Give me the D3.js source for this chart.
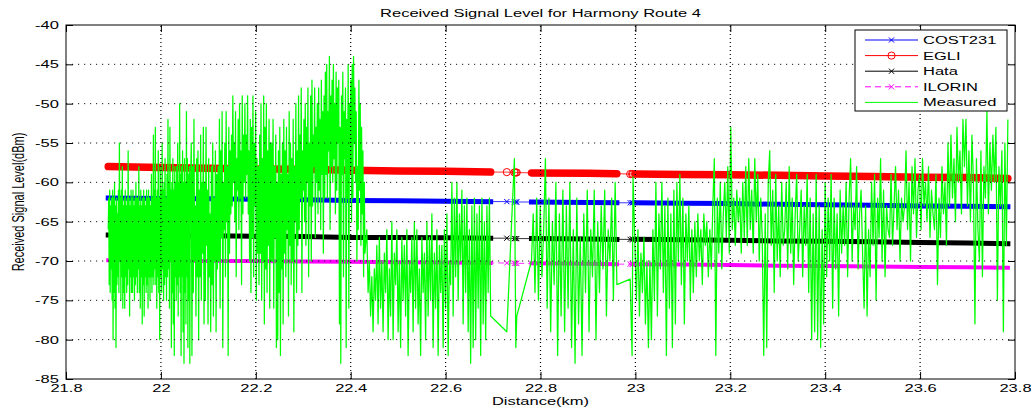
<!DOCTYPE html>
<html>
<head>
<meta charset="utf-8">
<script src="https://cdn.jsdelivr.net/npm/d3@7"></script>
<style>
  body { margin: 0; background: #fff; }
  svg { display: block; font-family: "Liberation Sans", Arial, sans-serif; }
</style>
</head>
<body>
<svg id="chart" width="1031" height="411"></svg>
<script>
// Axis ticks
const xTicks = [21.8, 22.0, 22.2, 22.4, 22.6, 22.8, 23.0, 23.2, 23.4, 23.6, 23.8];
const yTicks = [-85, -80, -75, -70, -65, -60, -55, -50, -45, -40];

// Drive-test recording: runs of evenly spaced readings (dBm) between a start and end distance (km)
const runStartKm = [21.889, 22.064, 22.434, 22.781, 22.999];
const runEndKm   = [22.062, 22.430, 22.695, 22.961, 23.785];

const measuredRun1 = [
  -66,-62,-73,-61,-74,-63,-71,-62,-75,-61, -80,-62,-74,-60,-76,-63,-81,-62,-73,-64,
  -72,-61,-74,-55,-70,-62,-75,-61,-72,-58, -76,-63,-74,-62,-76,-61,-72,-63,-74,-62,
  -73,-56,-71,-62,-77,-63,-72,-61,-74,-62, -74,-61,-72,-63,-75,-62,-73,-60,-72,-62,
  -74,-62,-71,-58,-74,-63,-76,-61,-72,-63, -78,-62,-73,-61,-77,-62,-72,-63,-74,-61,
  -73,-62,-76,-61,-72,-62,-75,-63,-72,-59, -74,-62,-72,-54,-73,-61,-71,-53,-73,-62,
  -76,-61,-72,-56,-74,-62,-80,-58,-72,-61, -74,-55,-71,-61,-75,-60,-73,-57,-72,-62,
  -75,-59,-72,-52,-71,-60,-76,-53,-70,-61, -81,-60,-74,-57,-78,-61,-82,-58,-72,-60,
  -75,-58,-73,-55,-77,-60,-72,-50,-74,-59, -82,-58,-72,-56,-79,-60,-83,-57,-74,-60,
  -78,-51,-72,-57,-81,-59,-75,-58,-83,-62
];
const measuredRun2 = [
  -55,-82,-58,-74,-52,-70,-63,-77,-57,-72, -56,-80,-61,-72,-54,-75,-60,-69,-53,-78,
  -60,-75,-53,-68,-61,-78,-57,-72,-64,-79, -58,-73,-55,-77,-62,-70,-56,-79,-59,-71,
  -58,-70,-52,-76,-56,-67,-51,-81,-60,-66, -55,-72,-51,-65,-58,-82,-53,-69,-56,-64,
  -54,-63,-49,-60,-55,-65,-51,-72,-57,-61, -52,-66,-50,-62,-56,-73,-49,-64,-54,-60,
  -50,-62,-54,-59,-49,-64,-56,-70,-52,-74, -53,-67,-49,-72,-55,-63,-51,-75,-57,-69,
  -58,-73,-54,-69,-50,-75,-57,-70,-49,-78, -53,-71,-50,-74,-56,-68,-52,-76,-55,-70,
  -55,-70,-52,-76,-58,-67,-54,-81,-60,-80, -56,-74,-53,-82,-59,-71,-55,-78,-52,-69,
  -56,-72,-53,-66,-59,-77,-51,-68,-55,-73, -57,-70,-52,-79,-58,-65,-50,-74,-56,-68,
  -49,-66,-54,-62,-48,-74,-56,-61,-52,-65, -50,-68,-53,-60,-48,-72,-55,-63,-49,-70,
  -47,-63,-54,-58,-48,-67,-53,-60,-50,-64, -48,-61,-52,-66,-47,-59,-51,-69,-49,-62,
  -46,-59,-45,-62,-51,-56,-44,-66,-49,-58, -47,-60,-45,-57,-50,-64,-46,-61,-48,-55,
  -47,-78,-53,-83,-49,-59,-46,-72,-51,-57, -48,-81,-52,-62,-45,-76,-50,-58,-47,-65,
  -45,-62,-44,-55,-48,-60,-51,-70,-58,-66, -47,-61,-50,-68,-53,-64,-56,-72,-60,-69
];
const measuredRun3 = [
  -66,-74,-70,-77,-72,-79,-71,-75,-68,-78, -67,-76,-70,-79,-69,-74,-66,-80,-71,-77,
  -65,-80,-69,-73,-66,-79,-70,-81,-67,-75, -68,-77,-66,-82,-70,-74,-67,-79,-65,-76,
  -66,-78,-71,-82,-67,-74,-69,-80,-65,-77, -67,-75,-64,-81,-69,-76,-66,-82,-68,-74,
  -68,-81,-66,-76,-64,-82,-70,-73,-60,-77, -62,-72,-60,-75,-64,-70,-61,-78,-63,-74,
  -62,-79,-66,-83,-63,-81,-62,-80,-64,-76, -63,-82,-62,-78,-65,-80,-63,-74,-62,-77
];
const measuredRun4 = [
  -70,-64,-74,-62,-75,-63,-72,-66,-57,-76, -62,-79,-65,-73,-60,-82,-64,-77,-61,-79,
  -63,-76,-60,-81,-66,-83,-62,-78,-67,-82, -64,-74,-61,-79,-66,-72,-61,-80,-65,-74,
  -63,-71,-61,-77,-66,-70,-62,-75,-60,-73
];
const measuredRun5 = [
  -68,-75,-66,-77,-69,-74,-67,-78,-70,-81, -70,-80,-66,-75,-60,-77,-64,-71,-60,-74,
  -63,-82,-62,-76,-64,-81,-61,-78,-60,-70, -59,-73,-62,-78,-64,-70,-63,-75,-66,-74,
  -65,-72,-64,-70,-66,-73,-64,-68,-65,-72, -66,-71,-63,-57,-82,-62,-69,-60,-71,-64,
  -60,-67,-58,-69,-53,-66,-62,-68,-61,-65, -62,-69,-60,-67,-58,-68,-57,-66,-61,-69,
  -57,-65,-59,-70,-62,-67,-82,-64,-81,-60, -56,-68,-61,-74,-59,-70,-63,-72,-60,-68,
  -66,-60,-71,-58,-69,-62,-73,-64,-59,-70, -66,-61,-72,-63,-68,-59,-74,-62,-80,-64,
  -79,-59,-80,-63,-81,-66,-78,-60,-72,-62, -70,-59,-76,-62,-71,-64,-77,-61,-69,-63,
  -68,-60,-72,-62,-57,-70,-63,-66,-58,-71, -64,-61,-69,-76,-63,-77,-66,-72,-60,-68,
  -59,-75,-62,-67,-57,-70,-61,-72,-63,-66, -67,-59,-68,-63,-58,-66,-61,-70,-62,-65,
  -63,-56,-66,-60,-70,-58,-64,-57,-67,-61, -59,-66,-57,-63,-60,-65,-58,-67,-61,-64,
  -66,-59,-73,-62,-67,-58,-64,-60,-68,-55, -63,-54,-62,-57,-65,-53,-60,-56,-64,-52,
  -58,-52,-63,-56,-65,-54,-60,-78,-57,-66, -70,-56,-72,-58,-62,-51,-64,-55,-61,-54,
  -60,-53,-75,-58,-63,-56,-79,-55,-68,-52
];
const measuredRuns = [measuredRun1, measuredRun2, measuredRun3, measuredRun4, measuredRun5];

// Single readings taken across the gaps in the recording
const isolatedKm  = [22.729, 22.745, 22.748, 22.750, 22.989, 22.993, 22.995];
const isolatedDbm = [-79, -57, -81, -77, -72.3, -82, -59.3];

// Model predictions (dBm) at reference distances along the route
const modelKm = [21.889, 22.0, 22.1, 22.2, 22.3, 22.4, 22.5, 22.6, 22.695, 22.729, 22.745, 22.748, 22.750,
                 22.781, 22.9, 22.961, 22.989, 22.993, 22.995, 22.999, 23.1, 23.2, 23.3, 23.4, 23.5, 23.6, 23.7, 23.785];
const cost231 = [-62.0, -62.05, -62.1, -62.15, -62.2, -62.3, -62.35, -62.4, -62.45, -62.45, -62.5, -62.5, -62.5,
                 -62.5, -62.55, -62.6, -62.6, -62.6, -62.6, -62.6, -62.65, -62.7, -62.8, -62.85, -62.9, -63.0, -63.05, -63.1];
const egli    = [-58.0, -58.1, -58.2, -58.3, -58.35, -58.45, -58.55, -58.6, -58.7, -58.7, -58.75, -58.75, -58.75,
                 -58.8, -58.85, -58.9, -58.95, -58.95, -58.95, -58.95, -59.0, -59.05, -59.1, -59.2, -59.25, -59.35, -59.4, -59.5];
const hata    = [-66.7, -66.75, -66.8, -66.85, -66.9, -67.0, -67.0, -67.05, -67.1, -67.1, -67.15, -67.15, -67.15,
                 -67.15, -67.2, -67.25, -67.25, -67.25, -67.25, -67.25, -67.3, -67.35, -67.45, -67.5, -67.55, -67.65, -67.7, -67.8];
const ilorin  = [-69.9, -69.95, -70.0, -70.0, -70.05, -70.1, -70.15, -70.2, -70.25, -70.25, -70.3, -70.3, -70.3,
                 -70.3, -70.35, -70.4, -70.4, -70.4, -70.4, -70.4, -70.45, -70.5, -70.6, -70.65, -70.7, -70.75, -70.8, -70.85];

// ---------------------------------------------------------------------------
const FONT = '"Liberation Sans", Arial, sans-serif';
const FONT_SIZE = 11;
const STRETCH = 1.5;   // wide lettering, as in the exported figure

const x = d3.scaleLinear().domain([21.8, 23.8]).range([66, 1015]);
const y = d3.scaleLinear().domain([-85, -40]).range([379, 25]);
const svg = d3.select('#chart');

// Assemble the measured trace in distance order
const measured = [];
measuredRuns.forEach((vals, i) => {
  const s = runStartKm[i], e = runEndKm[i];
  vals.forEach((v, j) => measured.push([s + (e - s) * j / (vals.length - 1), v]));
});
isolatedKm.forEach((k, i) => measured.push([k, isolatedDbm[i]]));
measured.sort((a, b) => a[0] - b[0]);

// Stretches of the route with continuous sampling (markers overlap into a solid band)
const spans = [];
runStartKm.forEach((s, i) => {
  const e = runEndKm[i];
  const last = spans[spans.length - 1];
  if (last && s - last[1] < 0.01) last[1] = e; else spans.push([s, e]);
});
const inSpan = k => spans.some(([s, e]) => k >= s - 1e-9 && k <= e + 1e-9);

const series = [
  { name: 'COST231',  values: cost231, color: '#0000ff', marker: 'x', band: 5,   cap: 'square', dash: null },
  { name: 'EGLI',     values: egli,    color: '#ff0000', marker: 'o', band: 7.5, cap: 'round',  dash: null },
  { name: 'Hata',     values: hata,    color: '#000000', marker: 'x', band: 5,   cap: 'square', dash: null },
  { name: 'ILORIN',   values: ilorin,  color: '#ff00ff', marker: 'x', band: 4,   cap: 'square', dash: '6,4' },
];

const line = d3.line().x(d => x(d[0])).y(d => y(d[1]));

function drawMarker(g, kind, cx, cy, color) {
  if (kind === 'o') {
    g.append('circle').attr('cx', cx).attr('cy', cy).attr('r', 3.6)
      .attr('fill', 'none').attr('stroke', color).attr('stroke-width', 1);
  } else {
    const r = 2.6;
    g.append('path')
      .attr('d', `M${cx - r},${cy - r}L${cx + r},${cy + r}M${cx - r},${cy + r}L${cx + r},${cy - r}`)
      .attr('stroke', color).attr('stroke-width', 1).attr('fill', 'none');
  }
}

const modelLayer = svg.append('g');
series.forEach(sr => {
  const pts = modelKm.map((k, i) => [k, sr.values[i]]);
  const g = modelLayer.append('g');
  // thin connecting line
  g.append('path').attr('d', line(pts)).attr('fill', 'none')
    .attr('stroke', sr.color).attr('stroke-width', 0.8)
    .attr('stroke-dasharray', sr.dash);
  // dense marker bands
  spans.forEach(([s, e]) => {
    const seg = pts.filter(p => p[0] >= s - 1e-9 && p[0] <= e + 1e-9);
    g.append('path').attr('d', line(seg)).attr('fill', 'none')
      .attr('stroke', sr.color).attr('stroke-width', sr.band)
      .attr('stroke-linecap', sr.cap);
  });
  // markers on the isolated readings
  pts.filter(p => !inSpan(p[0])).forEach(p => drawMarker(g, sr.marker, x(p[0]), y(p[1]), sr.color));
});

// Measured trace
svg.append('path').attr('d', line(measured)).attr('fill', 'none')
  .attr('stroke', '#00ff00').attr('stroke-width', 1.25).attr('stroke-linejoin', 'round');

// Dotted grid
svg.append('g').selectAll('line').data(yTicks.filter(v => v > -85 && v < -40)).join('line')
  .attr('x1', x.range()[0]).attr('x2', x.range()[1])
  .attr('y1', d => y(d)).attr('y2', d => y(d))
  .attr('stroke', '#000').attr('stroke-width', 0.9).attr('stroke-dasharray', '1.2,4.8');
svg.append('g').selectAll('line').data(xTicks.filter(v => v > 21.8 && v < 23.8)).join('line')
  .attr('x1', d => x(d)).attr('x2', d => x(d))
  .attr('y1', y.range()[0]).attr('y2', y.range()[1])
  .attr('stroke', '#000').attr('stroke-width', 1.2).attr('stroke-dasharray', '1,3');

// Axes with inward ticks on all four sides
const fmtKm = d => String(+d.toFixed(1));
function styleAxis(g) {
  g.attr('font-family', FONT).attr('font-size', FONT_SIZE);
  g.select('.domain').remove();
  g.selectAll('.tick line').attr('stroke', '#000');
  g.selectAll('text').attr('fill', '#000');
}
const gB = svg.append('g').attr('transform', `translate(0,${y.range()[0]})`)
  .call(d3.axisBottom(x).tickValues(xTicks).tickSizeInner(-7).tickSizeOuter(0).tickPadding(5).tickFormat(fmtKm));
styleAxis(gB);
gB.selectAll('text').attr('transform', `scale(${STRETCH},1)`);

const gL = svg.append('g').attr('transform', `translate(${x.range()[0]},0)`)
  .call(d3.axisLeft(y).tickValues(yTicks).tickSizeInner(-7).tickSizeOuter(0).tickPadding(4.7).tickFormat(d => String(d)));
styleAxis(gL);
gL.selectAll('text').attr('transform', `scale(${STRETCH},1)`);

const gT = svg.append('g').attr('transform', `translate(0,${y.range()[1]})`)
  .call(d3.axisTop(x).tickValues(xTicks).tickSizeInner(-7).tickSizeOuter(0).tickFormat(() => ''));
styleAxis(gT);
const gR = svg.append('g').attr('transform', `translate(${x.range()[1]},0)`)
  .call(d3.axisRight(y).tickValues(yTicks).tickSizeInner(-7).tickSizeOuter(0).tickFormat(() => ''));
styleAxis(gR);

svg.append('rect')
  .attr('x', x.range()[0]).attr('y', y.range()[1])
  .attr('width', x.range()[1] - x.range()[0]).attr('height', y.range()[0] - y.range()[1])
  .attr('fill', 'none').attr('stroke', '#000').attr('stroke-width', 1);

// Titles
function stretchedText(tx, ty, str, extra) {
  const g = svg.append('g').attr('transform', `translate(${tx},${ty}) scale(${STRETCH},1)${extra || ''}`);
  return g.append('text').text(str).attr('font-family', FONT).attr('font-size', FONT_SIZE)
    .attr('text-anchor', 'middle').attr('fill', '#000');
}
stretchedText(540.5, 17, 'Received Signal Level for Harmony Route 4');
stretchedText(540.5, 405, 'Distance(km)');
stretchedText(24, 202, 'Received Signal Level(dBm)', ' rotate(-90)');

// Legend
const legendItems = series.concat([{ name: 'Measured', color: '#00ff00', marker: null, dash: null }]);
const lg = svg.append('g');
lg.append('rect').attr('x', 855).attr('y', 30).attr('width', 152).attr('height', 81)
  .attr('fill', '#fff').attr('stroke', '#000').attr('stroke-width', 1);
legendItems.forEach((it, i) => {
  const ly = 40 + i * 15.6;
  lg.append('line').attr('x1', 865).attr('x2', 918).attr('y1', ly).attr('y2', ly)
    .attr('stroke', it.color).attr('stroke-width', 1).attr('stroke-dasharray', it.dash);
  if (it.marker) drawMarker(lg, it.marker, 891.5, ly, it.color);
  lg.append('g').attr('transform', `translate(923,${ly}) scale(${STRETCH},1)`)
    .append('text').text(it.name).attr('dy', '0.36em')
    .attr('font-family', FONT).attr('font-size', FONT_SIZE).attr('fill', '#000');
});
</script>
</body>
</html>
